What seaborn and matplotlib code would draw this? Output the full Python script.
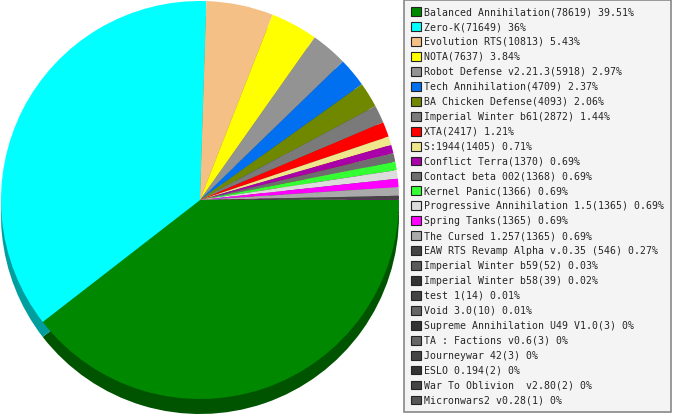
import numpy as np
import matplotlib
matplotlib.use("Agg")
import matplotlib.pyplot as plt
import matplotlib.colors as mcolors
from matplotlib.patches import Patch
import seaborn as sns

# game names (text before the count) and number of games played
names = [
    "Balanced Annihilation", "Zero-K", "Evolution RTS", "NOTA",
    "Robot Defense v2.21.3", "Tech Annihilation", "BA Chicken Defense",
    "Imperial Winter b61", "XTA", "S:1944", "Conflict Terra",
    "Contact beta 002", "Kernel Panic", "Progressive Annihilation 1.5",
    "Spring Tanks", "The Cursed 1.257", "EAW RTS Revamp Alpha v.0.35 ",
    "Imperial Winter b59", "Imperial Winter b58", "test 1", "Void 3.0",
    "Supreme Annihilation U49 V1.0", "TA : Factions v0.6", "Journeywar 42",
    "ESLO 0.194", "War To Oblivion  v2.80", "Micronwars2 v0.28",
]
counts = [78619, 71649, 10813, 7637, 5918, 4709, 4093, 2872, 2417, 1405,
          1370, 1368, 1366, 1365, 1365, 1365, 546, 52, 39, 14, 10, 3, 3, 3,
          2, 2, 1]
colors = [
    "#008800", "#00ffff", "#f5c085", "#ffff00", "#939393", "#0070f0",
    "#708800", "#7a7a7a", "#ff0000", "#f0e68c", "#aa00aa", "#6e6e6e",
    "#33ff33", "#dcdcdc", "#ff00ff", "#aaaaaa", "#444444", "#5a5a5a",
    "#333333", "#444444", "#666666", "#333333", "#666666", "#444444",
    "#333333", "#444444", "#555555",
]

sns.set_style("white")
plt.rcParams['font.family'] = ['DejaVu Sans Mono']

total = sum(counts)
labels = [f"{n}({c}) {round(100 * c / total, 2):g}%" for n, c in zip(names, counts)]

palette = sns.color_palette(colors)
dark = [tuple(np.array(mcolors.to_rgb(c)) * 0.62) for c in colors]

fig = plt.figure(figsize=(6.77, 4.15), dpi=100)
ax = fig.add_axes([0, 0, 400 / 677, 1])

# extruded side, then the top face
ax.pie(counts, colors=dark, startangle=0, counterclock=False,
       radius=199, center=(0, -15), frame=True,
       wedgeprops=dict(linewidth=0))
ax.pie(counts, colors=palette, startangle=0, counterclock=False,
       radius=199, center=(0, 0), frame=True,
       wedgeprops=dict(linewidth=0))
ax.set_xlim(-200, 200)
ax.set_ylim(-215, 200)
ax.set_aspect("equal")
ax.axis("off")

handles = [Patch(facecolor=c, edgecolor="#222222", linewidth=0.8) for c in colors]
leg = fig.legend(handles, labels, loc="upper left",
                 bbox_to_anchor=(404 / 677, 1.0), fontsize=7.1,
                 frameon=True, fancybox=False, shadow=False,
                 facecolor="#f4f4f4", edgecolor="#888888",
                 borderpad=0.72, labelspacing=0.5, handlelength=1.0,
                 handleheight=1.0, handletextpad=0.3, borderaxespad=0)
leg.get_frame().set_linewidth(1.2)
leg.get_frame().set_alpha(1)

fig.savefig("out.png", dpi=100)
